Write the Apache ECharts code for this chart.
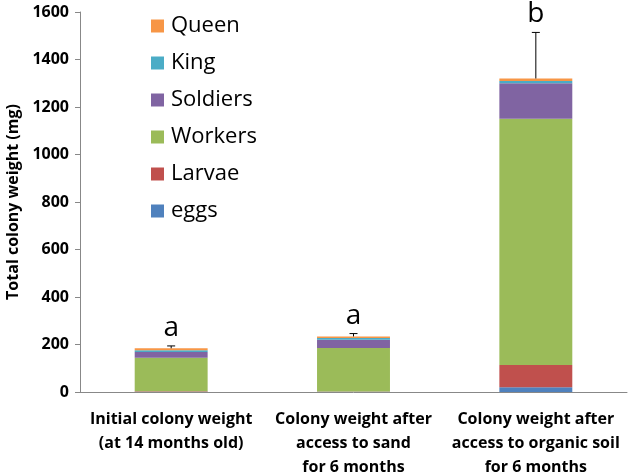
<!DOCTYPE html>
<html>
<head>
<meta charset="utf-8">
<script src="https://cdn.jsdelivr.net/npm/echarts@6/dist/echarts.min.js"></script>
<style>
  html, body { margin: 0; padding: 0; background: #fff; }
  #chart { width: 629px; height: 476px; }
</style>
</head>
<body>
<div id="chart"></div>
<script>
var categories = [
  "Initial colony weight\n(at 14 months old)",
  "Colony weight after\naccess to sand\nfor 6 months",
  "Colony weight after\naccess to organic soil\nfor 6 months"
];
var eggs = [1, 1, 20];
var larvae = [2, 1, 94];
var workers = [141, 183, 1037];
var soldiers = [24, 35, 149];
var king = [8, 7, 10];
var queen = [8, 7, 10];
var errUp = [10, 12, 194];
var letters = ["a", "a", "b"];

var font = "'Open Sans', 'Liberation Sans', sans-serif";
var totals = categories.map(function (c, i) {
  return eggs[i] + larvae[i] + workers[i] + soldiers[i] + king[i] + queen[i];
});

var chart = echarts.init(document.getElementById("chart"));

function stackSeries(name, data, color) {
  return {
    name: name,
    type: "bar",
    stack: "total",
    barWidth: "40%",
    data: data,
    itemStyle: { color: color },
    emphasis: { disabled: true }
  };
}

chart.setOption({
  animation: false,
  grid: { left: 80, right: 2, top: 12, bottom: 84, outerBoundsMode: "none" },
  legend: {
    orient: "vertical",
    left: 146,
    top: 10,
    itemWidth: 13,
    itemHeight: 13,
    itemGap: 15,
    icon: "rect",
    data: ["Queen", "King", "Soldiers", "Workers", "Larvae", "eggs"],
    textStyle: { fontFamily: font, fontSize: 22, color: "#000", padding: [0, 0, 0, 2] }
  },
  xAxis: {
    type: "category",
    data: categories,
    axisLine: { lineStyle: { color: "#888" } },
    axisTick: { show: false },
    axisLabel: {
      interval: 0,
      fontFamily: font,
      fontWeight: "bold",
      fontSize: 16,
      color: "#000",
      lineHeight: 24,
      margin: 15
    }
  },
  yAxis: {
    type: "value",
    min: 0,
    max: 1600,
    interval: 200,
    name: "Total colony weight (mg)",
    nameLocation: "middle",
    nameGap: 57,
    nameTextStyle: { fontFamily: font, fontWeight: "bold", fontSize: 16, color: "#000" },
    axisLine: { show: true, lineStyle: { color: "#888" } },
    axisTick: { show: true, length: 5, lineStyle: { color: "#888" } },
    splitLine: { show: false },
    axisLabel: {
      fontFamily: font, fontWeight: "bold", fontSize: 16, color: "#000", margin: 11,
      formatter: function (v) { return String(v); }
    }
  },
  series: [
    stackSeries("eggs", eggs, "#4F81BD"),
    stackSeries("Larvae", larvae, "#C0504D"),
    stackSeries("Workers", workers, "#9BBB59"),
    stackSeries("Soldiers", soldiers, "#8064A2"),
    stackSeries("King", king, "#4BACC6"),
    stackSeries("Queen", queen, "#F79646"),
    {
      type: "custom",
      silent: true,
      z: 10,
      data: totals.map(function (t, i) { return [i, t, t + errUp[i]]; }),
      renderItem: function (params, api) {
        var i = api.value(0);
        var base = api.coord([i, api.value(1)]);
        var top = api.coord([i, api.value(2)]);
        var cap = 4;
        return {
          type: "group",
          children: [
            { type: "line", shape: { x1: base[0], y1: base[1], x2: top[0], y2: top[1] }, style: { stroke: "#000", lineWidth: 1 } },
            { type: "line", shape: { x1: top[0] - cap, y1: top[1], x2: top[0] + cap, y2: top[1] }, style: { stroke: "#000", lineWidth: 1 } },
            { type: "text", x: top[0], y: top[1] - 4, style: { text: letters[i], fill: "#000", font: "28px " + font, align: "center", verticalAlign: "bottom" } }
          ]
        };
      }
    }
  ]
});
</script>
</body>
</html>
